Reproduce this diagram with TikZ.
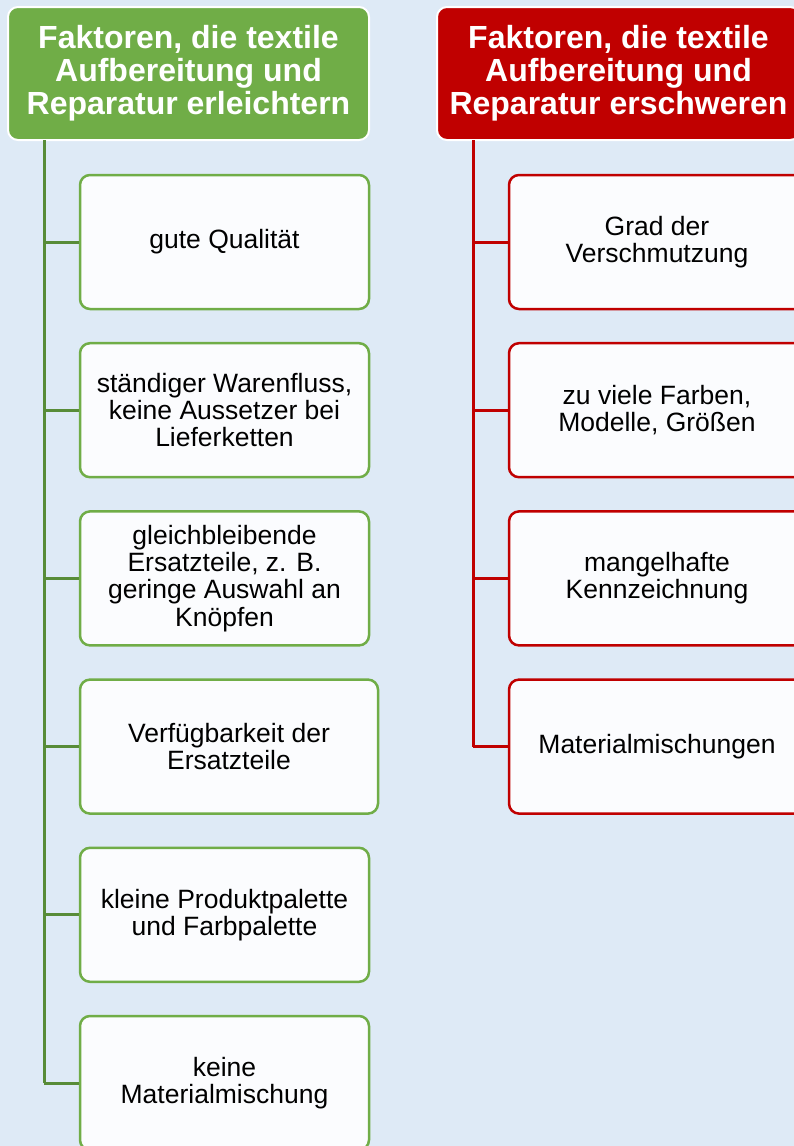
\documentclass[tikz,border=0pt]{standalone}
\usepackage{fontspec}
\setmainfont{Liberation Sans}
\definecolor{bgblue}{RGB}{222,234,246}
\definecolor{okgreen}{RGB}{112,173,71}
\definecolor{okline}{RGB}{88,140,56}
\definecolor{badred}{RGB}{192,0,0}
\definecolor{boxfill}{RGB}{251,252,254}
\tikzset{
	head/.style={draw=white,line width=2pt,rounded corners=10pt,minimum height=133pt,align=center,text=white,font=\bfseries\fontsize{32}{33}\selectfont},
	item/.style={fill=boxfill,line width=2.5pt,rounded corners=10pt,minimum height=134pt,align=center,font=\fontsize{26.5}{27.3}\selectfont},
	gbox/.style={item,draw=okgreen},
	rbox/.style={item,draw=badred,minimum width=296pt},
	gline/.style={draw=okline,line width=3pt},
	rline/.style={draw=badred,line width=3pt}
}
\begin{document}
\begin{tikzpicture}[x=1pt,y=1pt]
			\clip (0,0) rectangle (794,-1146);
			\fill[bgblue] (0,0) rectangle (794,-1146);
			\node[head,fill=okgreen,minimum width=361pt] (lhead) at (188.5,-73.5) {Faktoren, die textile\\Aufbereitung und\\Reparatur erleichtern};
			\node[head,fill=badred,minimum width=363pt] (rhead) at (618.5,-73.5) {Faktoren, die textile\\Aufbereitung und\\Reparatur erschweren};
			\coordinate (ltop) at (44,-140);
			\coordinate (rtop) at (473,-140);
			\foreach \w/\t [count=\i] in {289/{gute Qualität},289/{ständiger Warenfluss,\\keine Aussetzer bei\\Lieferketten},289/{gleichbleibende\\Ersatzteile, z. B.\\geringe Auswahl an\\Knöpfen},298/{Verfügbarkeit der\\Ersatzteile},289/{kleine Produktpalette\\und Farbpalette},289/{keine\\Materialmischung}}{
				\node[gbox,minimum width=\w pt] (l\i) at (80+\w/2,-242-168.2*\i+168.2) {\t};
				\draw[gline] (ltop |- l\i.west) -- (l\i.west);
			}
			\draw[gline] (ltop) -- (ltop |- l6.west);
			\foreach \t [count=\i] in {{Grad der\\Verschmutzung},{zu viele Farben,\\Modelle, Größen},{mangelhafte\\Kennzeichnung},{Materialmischungen}}{
				\node[rbox] (r\i) at (657,-242-168.2*\i+168.2) {\t};
				\draw[rline] (rtop |- r\i.west) -- (r\i.west);
			}
			\draw[rline] (rtop) -- (rtop |- r4.west);
\end{tikzpicture}
\end{document}
